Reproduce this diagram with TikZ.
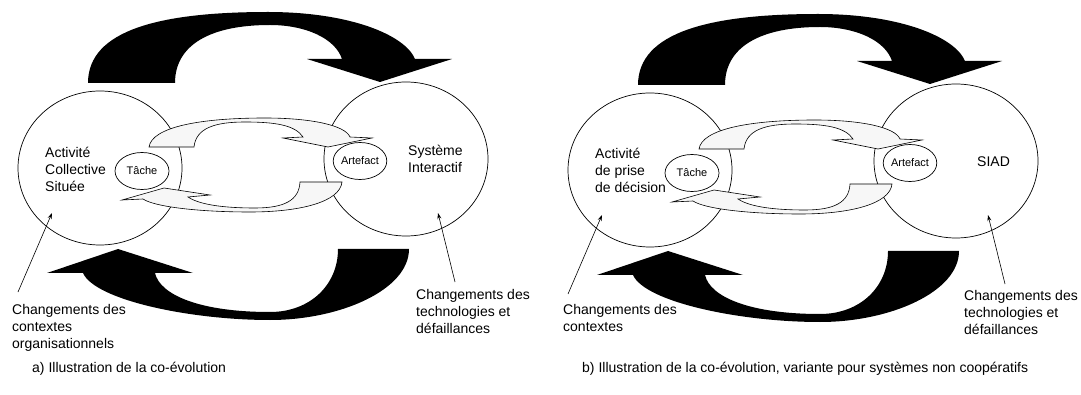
\documentclass[tikz,border=0pt]{standalone}
\usepackage{fontspec}
\setmainfont{Liberation Sans}
\usetikzlibrary{arrows.meta,shapes.geometric}
\newcommand\coevpanel[1]{%
  \node[bigc] (gauche#1) at (100,168) {};
  \node[bigc] (droite#1) at (406,159) {};
  \node[smalle, minimum width=54] (tache#1) at (142,171) {Tâche};
  \node[smalle, minimum width=52] (artefact#1) at (360,161) {Artefact};
  % top black arrow
  \fill[black] (88,83) .. controls (88,30) and (160,12) .. (268,12)
     .. controls (350,12) and (405,35) .. (415,59) -- (452,59) -- (380,82)
     -- (307,59) -- (342,59) .. controls (335,38) and (305,25) .. (270,25)
     .. controls (210,25) and (175,45) .. (175,83) -- cycle;
  % bottom black arrow
  \fill[black] (409,249) .. controls (409,290) and (340,320) .. (270,320)
     .. controls (190,320) and (95,300) .. (83,273) -- (47,273) -- (118,249)
     -- (193,273) -- (155,273) .. controls (160,295) and (200,312) .. (270,312)
     .. controls (310,312) and (338,285) .. (338,249) -- cycle;
  % top white arrow
  \filldraw[wa] (149,147) .. controls (152,127) and (200,118) .. (265,118)
     .. controls (310,118) and (345,125) .. (350,137) -- (372,138) -- (328,147)
     -- (283,138) -- (303,137) .. controls (295,125) and (275,122) .. (245,122)
     .. controls (215,122) and (196,128) .. (194,147) -- cycle;
  % bottom white arrow
  \filldraw[wa] (342,182) .. controls (340,202) and (300,212) .. (250,212)
     .. controls (200,212) and (155,207) .. (143,199) -- (122,200) -- (164,188)
     -- (210,195) -- (188,197) .. controls (200,205) and (225,208) .. (255,208)
     .. controls (285,208) and (299,200) .. (300,182) -- cycle;
  \coordinate (pgs#1) at (18,292); \coordinate (pge#1) at (52,213);
  \coordinate (pds#1) at (455,282); \coordinate (pde#1) at (438,213);
  \draw[ptr] (pgs#1) -- (pge#1);
  \draw[ptr] (pds#1) -- (pde#1);
}
\begin{document}
\begin{tikzpicture}[x=1pt,y=-1pt,
  every node/.style={font=\fontsize{14}{17}\selectfont, inner sep=0pt},
  lbl/.style={align=left, anchor=base west},
  bigc/.style={draw, ellipse, line width=0.7pt, minimum width=164, minimum height=154},
  smalle/.style={draw, ellipse, line width=0.7pt, minimum height=37, font=\fontsize{11}{13}\selectfont},
  wa/.style={draw=black, line width=0.6pt, fill=black!3, line join=miter},
  ptr/.style={line width=0.6pt, -{Stealth[length=6pt,width=4pt]}}]
\useasboundingbox (0,0) rectangle (1081,395);
% panel a (base anchor = last line's baseline)
\node[lbl] (txtga) at (45,192) {Activité\\Collective\\Située};
\node[lbl] (txtda) at (408,173) {Système\\Interactif};
\node[lbl] (chga) at (12,348) {Changements des\\contextes\\organisationnels};
\node[lbl] (chda) at (416,333) {Changements des\\technologies et\\défaillances};
\coevpanel{a}
\node[lbl] (capa) at (32,372) {a) Illustration de la co-évolution};
% panel b
\node[lbl] (txtgb) at (595,193) {Activité\\de prise\\de décision};
\node[lbl] (txtdb) at (977,167) {SIAD};
\node[lbl] (chgb) at (563,331) {Changements des\\contextes};
\node[lbl] (chdb) at (964,334) {Changements des\\technologies et\\défaillances};
\begin{scope}[shift={(550,2)}]
\coevpanel{b}
\end{scope}
\node[lbl] (capb) at (582,372) {b) Illustration de la co-évolution, variante pour systèmes non coopératifs};
\end{tikzpicture}
\end{document}
